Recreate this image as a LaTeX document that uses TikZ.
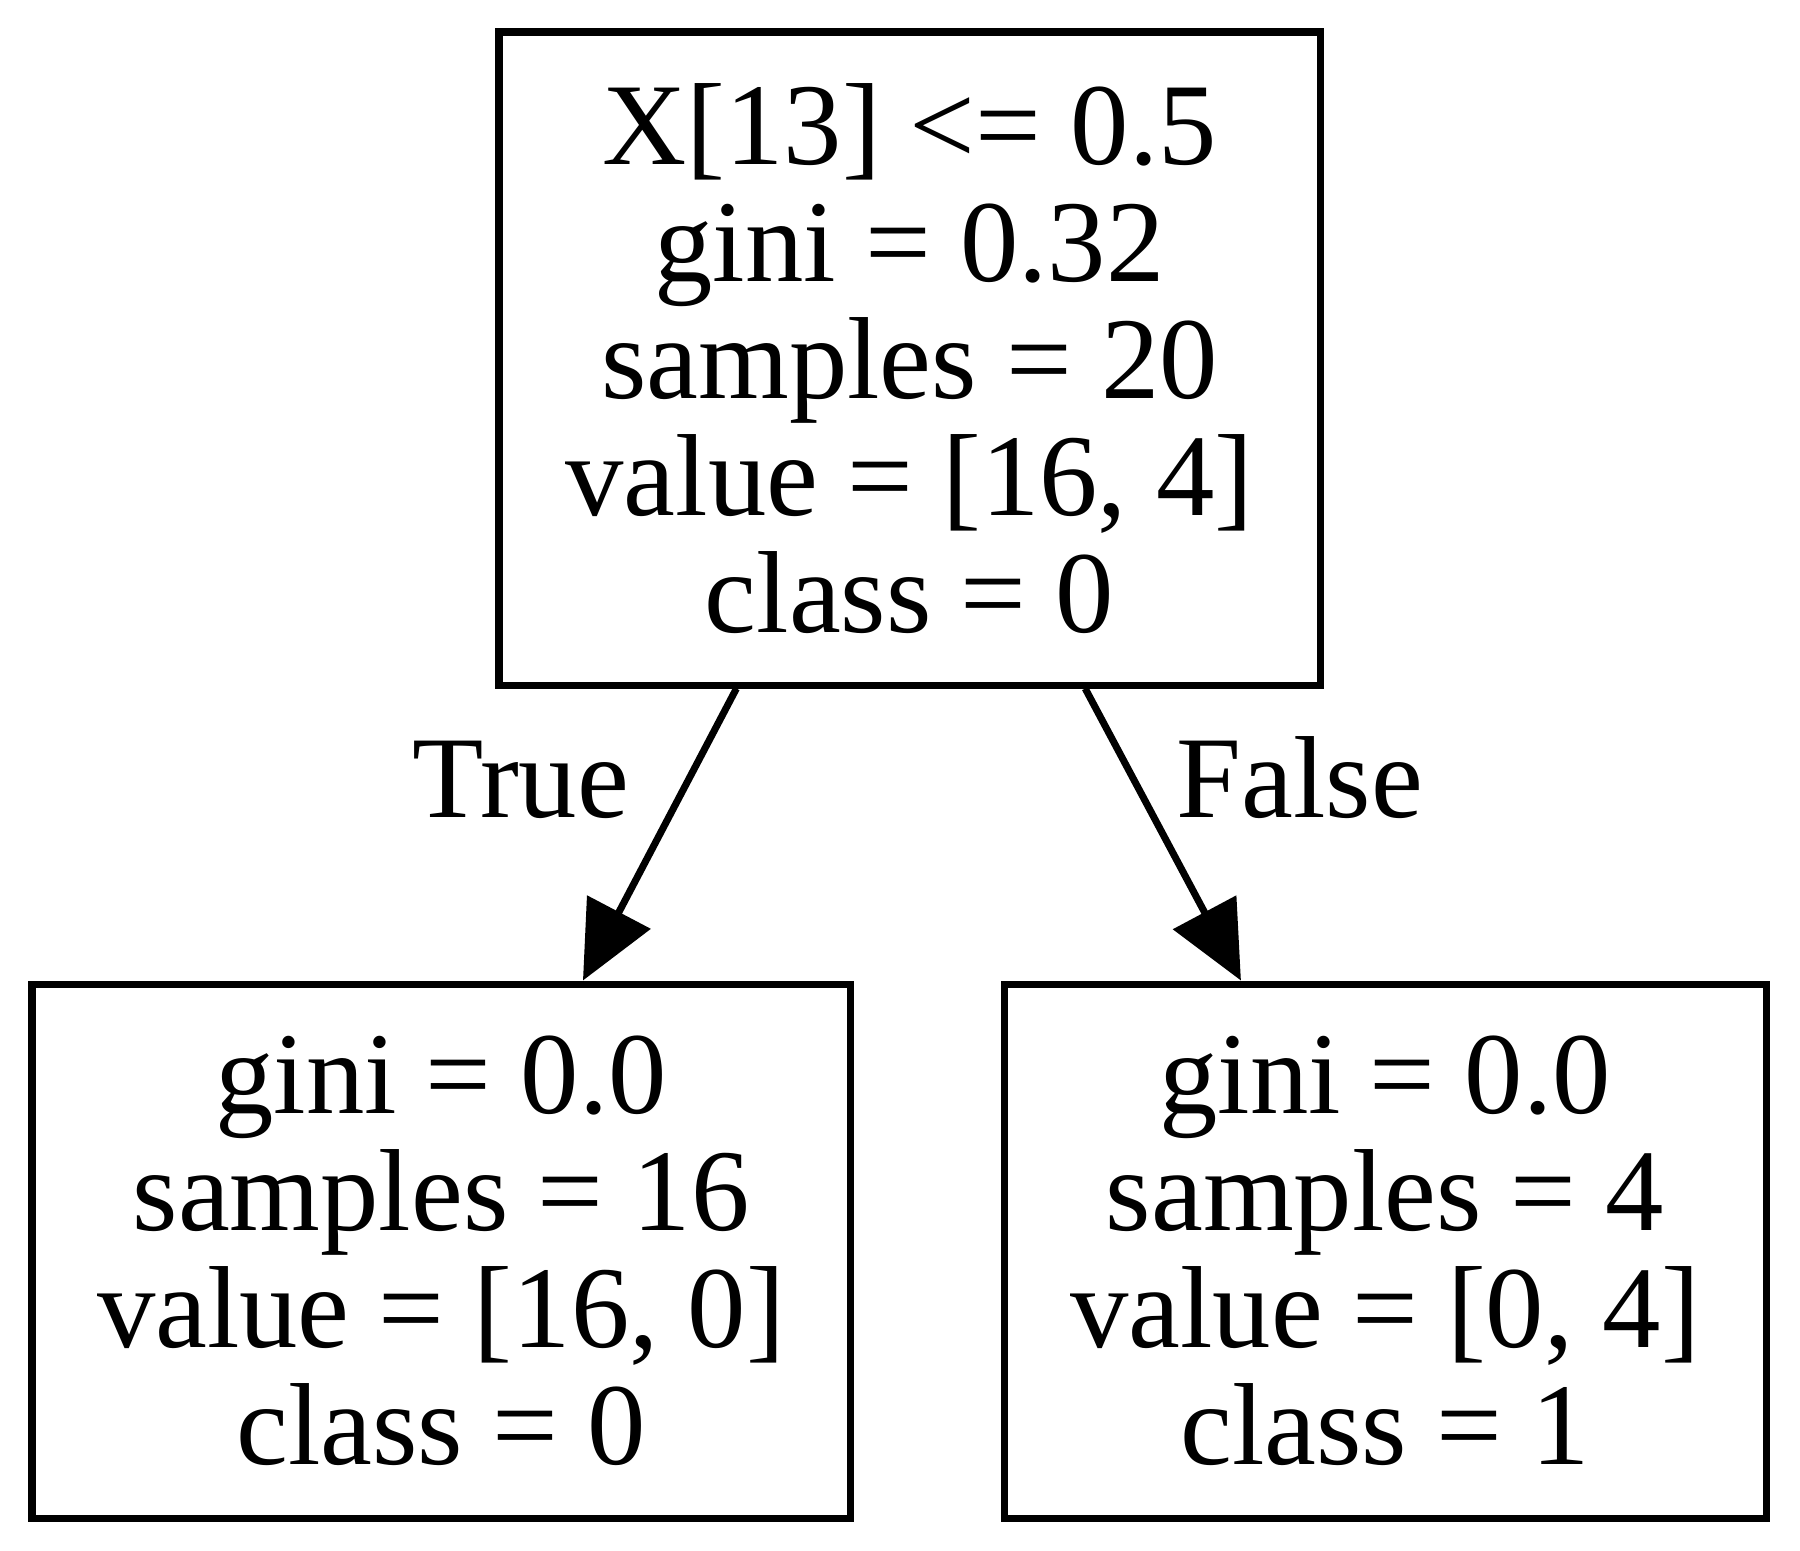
\documentclass[tikz,border=0pt]{standalone}
\usepackage{fontspec}
\setmainfont{Liberation Serif}
\usetikzlibrary{arrows.meta}

\begin{document}
\begin{tikzpicture}[x=1mm,y=1mm,
  every node/.style={font=\fontsize{33.2}{33.3}\selectfont},
  split/.style={draw,line width=2pt,align=center},
  branch/.style={line width=2pt,-{Triangle[length=22pt,width=20pt]}}]
\useasboundingbox (0,0) rectangle (180,-155);

\node[split,minimum width=82.1mm,minimum height=65.3mm] (root) at (90.95,-35.85)
  {X[13] <= 0.5\\gini = 0.32\\samples = 20\\value = [16, 4]\\class = 0};
\node[split,minimum width=81.8mm,minimum height=53.4mm] (left) at (44.1,-125.1)
  {gini = 0.0\\samples = 16\\value = [16, 0]\\class = 0};
\node[split,minimum width=76.2mm,minimum height=53.4mm] (right) at (138.5,-125.1)
  {gini = 0.0\\samples = 4\\value = [0, 4]\\class = 1};

\draw[branch] (root) -- (left);
\draw[branch] (root) -- (right);
\node[anchor=base] (true) at (52.1,-81.7) {True};
\node[anchor=base] (false) at (130.0,-81.7) {False};
\end{tikzpicture}
\end{document}
